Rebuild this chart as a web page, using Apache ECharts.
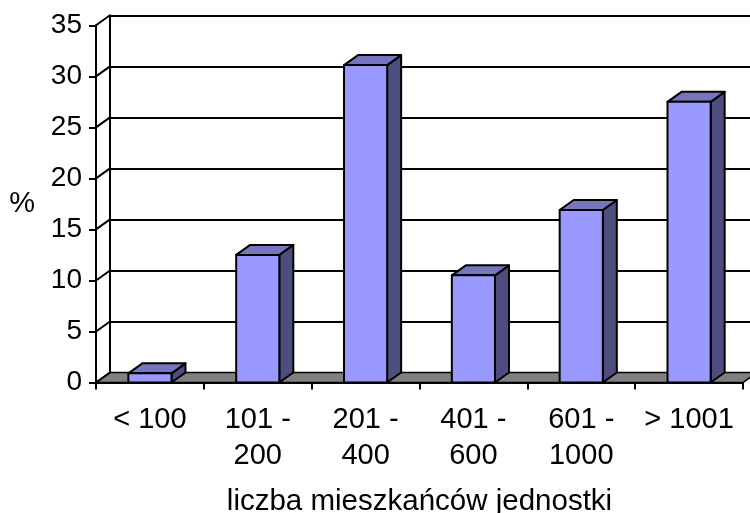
<!DOCTYPE html>
<html>
<head>
<meta charset="utf-8">
<script src="https://cdn.jsdelivr.net/npm/echarts@6/dist/echarts.min.js"></script>
<style>
html,body{margin:0;padding:0;background:#fff;}
#chart{width:750px;height:513px;}
</style>
</head>
<body>
<div id="chart"></div>
<script>
// ---- data ----
var categories = ['< 100', '101 -\n200', '201 -\n400', '401 -\n600', '601 -\n1000', '> 1001'];
var values = [0.9, 12.5, 31.1, 10.5, 16.9, 27.5];
var yMin = 0, yMax = 35, yStep = 5;
var xAxisTitle = 'liczba mieszkańców jednostki';
var yAxisTitle = '%';

// ---- style ----
var DX = 14, DY = 10;
var FRONT = '#9999FF', TOP = '#7676BE', SIDE = '#4D4D80', FLOOR = '#808080';
var FONT = "'Liberation Sans', Arial, sans-serif";

var tickValues = [];
for (var t = yMin; t <= yMax; t += yStep) tickValues.push(t);

var chart = echarts.init(document.getElementById('chart'), null, {renderer: 'canvas'});

var option = {
  animation: false,
  backgroundColor: '#fff',
  grid: [
    {left: 96, top: 25.3, width: 647, height: 357.2, containLabel: false, outerBoundsMode: 'none'},
    {left: 96 + DX, top: 25.3 - DY, width: 647, height: 357.2, containLabel: false, outerBoundsMode: 'none'}
  ],
  xAxis: [
    {
      gridIndex: 0, type: 'category', data: categories, boundaryGap: true, z: 10,
      axisLine: {show: true, lineStyle: {color: '#000', width: 2}},
      axisTick: {show: true, length: 7, lineStyle: {color: '#000', width: 2}},
      axisLabel: {color: '#000', fontSize: 29, fontFamily: FONT, lineHeight: 36, margin: 19, interval: 0},
      name: xAxisTitle, nameLocation: 'middle', nameGap: 104,
      nameTextStyle: {color: '#000', fontSize: 29.5, fontFamily: FONT}
    },
    {gridIndex: 1, type: 'category', data: categories, show: false}
  ],
  yAxis: [
    {
      gridIndex: 0, type: 'value', min: yMin, max: yMax, interval: yStep, z: 10,
      axisLine: {show: true, lineStyle: {color: '#000', width: 2}},
      axisTick: {show: true, length: 7, lineStyle: {color: '#000', width: 2}},
      axisLabel: {color: '#000', fontSize: 28, fontFamily: FONT, margin: 14},
      splitLine: {show: false},
      name: yAxisTitle, nameLocation: 'middle', nameRotate: 0, nameGap: 61,
      nameTextStyle: {color: '#000', fontSize: 29, fontFamily: FONT, padding: [22, 0, 0, 0]}
    },
    {
      gridIndex: 1, type: 'value', min: yMin, max: yMax, interval: yStep, z: 0,
      axisLine: {show: true, lineStyle: {color: '#000', width: 2}},
      axisTick: {show: false}, axisLabel: {show: false},
      splitLine: {show: true, lineStyle: {color: '#000', width: 2}}
    }
  ],
  series: [
    {
      // floor + left side wall lines
      type: 'custom', xAxisIndex: 0, yAxisIndex: 0, z: 1, clip: false, silent: true,
      data: [[0, 0]],
      renderItem: function (params, api) {
        var cs = params.coordSys;
        var l = cs.x, r = cs.x + cs.width;
        var y0 = api.coord([0, yMin])[1];
        var children = [{
          type: 'polygon',
          shape: {points: [[l, y0], [r, y0], [r + DX, y0 - DY], [l + DX, y0 - DY]]},
          style: {fill: FLOOR, stroke: '#000', lineWidth: 1.5}
        }];
        tickValues.forEach(function (tv) {
          var yy = api.coord([0, tv])[1];
          children.push({type: 'line', shape: {x1: l, y1: yy, x2: l + DX, y2: yy - DY},
            style: {stroke: '#000', lineWidth: 2}});
        });
        return {type: 'group', children: children};
      }
    },
    {
      type: 'custom', xAxisIndex: 0, yAxisIndex: 0, z: 3, clip: false,
      data: values.map(function (v, i) { return [i, v]; }),
      encode: {x: 0, y: 1},
      renderItem: function (params, api) {
        var i = api.value(0), v = api.value(1);
        var p = api.coord([i, v]);
        var b = api.coord([i, yMin]);
        var bw = api.size([1, 0])[0] * 0.4;
        var x0 = p[0] - bw / 2, x1 = p[0] + bw / 2, yt = p[1], yb = b[1];
        var st = {stroke: '#000', lineWidth: 2, lineJoin: 'round'};
        return {type: 'group', children: [
          {type: 'polygon', shape: {points: [[x1, yb], [x1, yt], [x1 + DX, yt - DY], [x1 + DX, yb - DY]]},
            style: Object.assign({fill: SIDE}, st)},
          {type: 'polygon', shape: {points: [[x0, yt], [x1, yt], [x1 + DX, yt - DY], [x0 + DX, yt - DY]]},
            style: Object.assign({fill: TOP}, st)},
          {type: 'rect', shape: {x: x0, y: yt, width: bw, height: yb - yt},
            style: Object.assign({fill: FRONT}, st)}
        ]};
      }
    }
  ]
};
chart.setOption(option);
</script>
</body>
</html>
